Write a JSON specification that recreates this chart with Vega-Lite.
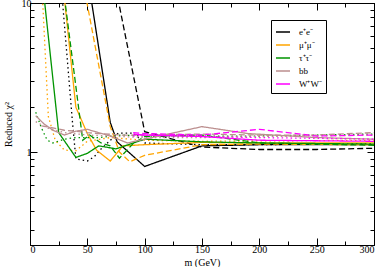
{
 "$schema": "https://vega.github.io/schema/vega-lite/v6.json",
 "width": 344, "height": 242,
 "autosize": "none",
 "padding": {"left": 30, "top": 3, "right": 8, "bottom": 22},
 "config": {
  "view": {"stroke": "black", "strokeWidth": 1},
  "font": "Liberation Serif",
  "axis": {"grid": false, "domainColor": "black", "tickColor": "black", "labelColor": "black", "titleColor": "black", "labelFont": "Liberation Serif", "titleFont": "Liberation Serif", "labelFontSize": 10, "titleFontSize": 10, "titleFontWeight": "normal"}
 },
 "data": {"values": [
  {"c": "e⁺e⁻", "s": "solid", "m": 50, "v": 15.6},
  {"c": "e⁺e⁻", "s": "solid", "m": 70, "v": 1.58},
  {"c": "e⁺e⁻", "s": "solid", "m": 76, "v": 1.17},
  {"c": "e⁺e⁻", "s": "solid", "m": 100, "v": 0.8},
  {"c": "e⁺e⁻", "s": "solid", "m": 150, "v": 1.1},
  {"c": "e⁺e⁻", "s": "solid", "m": 200, "v": 1.12},
  {"c": "e⁺e⁻", "s": "solid", "m": 250, "v": 1.12},
  {"c": "e⁺e⁻", "s": "solid", "m": 300, "v": 1.12},
  {"c": "e⁺e⁻", "s": "dashed", "m": 75, "v": 12.4},
  {"c": "e⁺e⁻", "s": "dashed", "m": 100, "v": 1.37},
  {"c": "e⁺e⁻", "s": "dashed", "m": 150, "v": 1.08},
  {"c": "e⁺e⁻", "s": "dashed", "m": 200, "v": 1.04},
  {"c": "e⁺e⁻", "s": "dashed", "m": 250, "v": 1.04},
  {"c": "e⁺e⁻", "s": "dashed", "m": 300, "v": 1.06},
  {"c": "e⁺e⁻", "s": "dotted", "m": 25, "v": 21},
  {"c": "e⁺e⁻", "s": "dotted", "m": 37, "v": 1.6},
  {"c": "e⁺e⁻", "s": "dotted", "m": 40, "v": 0.9},
  {"c": "e⁺e⁻", "s": "dotted", "m": 50, "v": 0.87},
  {"c": "e⁺e⁻", "s": "dotted", "m": 56, "v": 0.93},
  {"c": "e⁺e⁻", "s": "dotted", "m": 62, "v": 1.05},
  {"c": "e⁺e⁻", "s": "dotted", "m": 77, "v": 1.34},
  {"c": "e⁺e⁻", "s": "dotted", "m": 90, "v": 1.34},
  {"c": "e⁺e⁻", "s": "dotted", "m": 100, "v": 1.15},
  {"c": "e⁺e⁻", "s": "dotted", "m": 150, "v": 1.12},
  {"c": "e⁺e⁻", "s": "dotted", "m": 200, "v": 1.12},
  {"c": "e⁺e⁻", "s": "dotted", "m": 300, "v": 1.14},
  {"c": "μ⁺μ⁻", "s": "solid", "m": 25, "v": 25},
  {"c": "μ⁺μ⁻", "s": "solid", "m": 40, "v": 2.0},
  {"c": "μ⁺μ⁻", "s": "solid", "m": 50, "v": 1.33},
  {"c": "μ⁺μ⁻", "s": "solid", "m": 58, "v": 1.03},
  {"c": "μ⁺μ⁻", "s": "solid", "m": 70, "v": 0.87},
  {"c": "μ⁺μ⁻", "s": "solid", "m": 81, "v": 1.1},
  {"c": "μ⁺μ⁻", "s": "solid", "m": 100, "v": 1.12},
  {"c": "μ⁺μ⁻", "s": "solid", "m": 150, "v": 1.16},
  {"c": "μ⁺μ⁻", "s": "solid", "m": 200, "v": 1.15},
  {"c": "μ⁺μ⁻", "s": "solid", "m": 300, "v": 1.15},
  {"c": "μ⁺μ⁻", "s": "dashed", "m": 45, "v": 15.6},
  {"c": "μ⁺μ⁻", "s": "dashed", "m": 70, "v": 1.48},
  {"c": "μ⁺μ⁻", "s": "dashed", "m": 78, "v": 1.0},
  {"c": "μ⁺μ⁻", "s": "dashed", "m": 87, "v": 0.86},
  {"c": "μ⁺μ⁻", "s": "dashed", "m": 100, "v": 0.95},
  {"c": "μ⁺μ⁻", "s": "dashed", "m": 150, "v": 1.12},
  {"c": "μ⁺μ⁻", "s": "dashed", "m": 200, "v": 1.13},
  {"c": "μ⁺μ⁻", "s": "dashed", "m": 300, "v": 1.12},
  {"c": "μ⁺μ⁻", "s": "dotted", "m": 10, "v": 15},
  {"c": "μ⁺μ⁻", "s": "dotted", "m": 16, "v": 1.73},
  {"c": "μ⁺μ⁻", "s": "dotted", "m": 22, "v": 1.2},
  {"c": "μ⁺μ⁻", "s": "dotted", "m": 30, "v": 1.03},
  {"c": "μ⁺μ⁻", "s": "dotted", "m": 40, "v": 1.02},
  {"c": "μ⁺μ⁻", "s": "dotted", "m": 50, "v": 1.18},
  {"c": "μ⁺μ⁻", "s": "dotted", "m": 70, "v": 1.25},
  {"c": "μ⁺μ⁻", "s": "dotted", "m": 100, "v": 1.2},
  {"c": "μ⁺μ⁻", "s": "dotted", "m": 150, "v": 1.18},
  {"c": "μ⁺μ⁻", "s": "dotted", "m": 300, "v": 1.2},
  {"c": "τ⁺τ⁻", "s": "solid", "m": 10, "v": 16},
  {"c": "τ⁺τ⁻", "s": "solid", "m": 25, "v": 1.35},
  {"c": "τ⁺τ⁻", "s": "solid", "m": 40, "v": 0.92},
  {"c": "τ⁺τ⁻", "s": "solid", "m": 50, "v": 0.98},
  {"c": "τ⁺τ⁻", "s": "solid", "m": 60, "v": 1.1},
  {"c": "τ⁺τ⁻", "s": "solid", "m": 75, "v": 1.05},
  {"c": "τ⁺τ⁻", "s": "solid", "m": 100, "v": 1.22},
  {"c": "τ⁺τ⁻", "s": "solid", "m": 150, "v": 1.17},
  {"c": "τ⁺τ⁻", "s": "solid", "m": 200, "v": 1.15},
  {"c": "τ⁺τ⁻", "s": "solid", "m": 300, "v": 1.13},
  {"c": "τ⁺τ⁻", "s": "dashed", "m": 25, "v": 22},
  {"c": "τ⁺τ⁻", "s": "dashed", "m": 46, "v": 1.2},
  {"c": "τ⁺τ⁻", "s": "dashed", "m": 52, "v": 1.3},
  {"c": "τ⁺τ⁻", "s": "dashed", "m": 62, "v": 1.15},
  {"c": "τ⁺τ⁻", "s": "dashed", "m": 70, "v": 1.1},
  {"c": "τ⁺τ⁻", "s": "dashed", "m": 78, "v": 0.91},
  {"c": "τ⁺τ⁻", "s": "dashed", "m": 90, "v": 1.14},
  {"c": "τ⁺τ⁻", "s": "dashed", "m": 100, "v": 1.27},
  {"c": "τ⁺τ⁻", "s": "dashed", "m": 150, "v": 1.3},
  {"c": "τ⁺τ⁻", "s": "dashed", "m": 200, "v": 1.15},
  {"c": "τ⁺τ⁻", "s": "dashed", "m": 300, "v": 1.11},
  {"c": "τ⁺τ⁻", "s": "dotted", "m": 5, "v": 1.85},
  {"c": "τ⁺τ⁻", "s": "dotted", "m": 10, "v": 1.45},
  {"c": "τ⁺τ⁻", "s": "dotted", "m": 15, "v": 1.2},
  {"c": "τ⁺τ⁻", "s": "dotted", "m": 20, "v": 1.15},
  {"c": "τ⁺τ⁻", "s": "dotted", "m": 30, "v": 1.22},
  {"c": "τ⁺τ⁻", "s": "dotted", "m": 40, "v": 1.25},
  {"c": "τ⁺τ⁻", "s": "dotted", "m": 60, "v": 1.25},
  {"c": "τ⁺τ⁻", "s": "dotted", "m": 80, "v": 1.3},
  {"c": "τ⁺τ⁻", "s": "dotted", "m": 100, "v": 1.28},
  {"c": "τ⁺τ⁻", "s": "dotted", "m": 150, "v": 1.28},
  {"c": "τ⁺τ⁻", "s": "dotted", "m": 200, "v": 1.28},
  {"c": "τ⁺τ⁻", "s": "dotted", "m": 250, "v": 1.3},
  {"c": "τ⁺τ⁻", "s": "dotted", "m": 300, "v": 1.32},
  {"c": "bb", "s": "solid", "m": 5, "v": 1.75},
  {"c": "bb", "s": "solid", "m": 12, "v": 1.55},
  {"c": "bb", "s": "solid", "m": 20, "v": 1.4},
  {"c": "bb", "s": "solid", "m": 30, "v": 1.3},
  {"c": "bb", "s": "solid", "m": 40, "v": 1.38},
  {"c": "bb", "s": "solid", "m": 50, "v": 1.42},
  {"c": "bb", "s": "solid", "m": 70, "v": 1.28},
  {"c": "bb", "s": "solid", "m": 85, "v": 1.15},
  {"c": "bb", "s": "solid", "m": 100, "v": 1.22},
  {"c": "bb", "s": "solid", "m": 150, "v": 1.48},
  {"c": "bb", "s": "solid", "m": 190, "v": 1.33},
  {"c": "bb", "s": "solid", "m": 250, "v": 1.25},
  {"c": "bb", "s": "solid", "m": 300, "v": 1.22},
  {"c": "bb", "s": "dashed", "m": 10, "v": 1.5},
  {"c": "bb", "s": "dashed", "m": 20, "v": 1.45},
  {"c": "bb", "s": "dashed", "m": 30, "v": 1.4},
  {"c": "bb", "s": "dashed", "m": 40, "v": 1.38},
  {"c": "bb", "s": "dashed", "m": 50, "v": 1.35},
  {"c": "bb", "s": "dashed", "m": 60, "v": 1.33},
  {"c": "bb", "s": "dashed", "m": 80, "v": 1.3},
  {"c": "bb", "s": "dashed", "m": 100, "v": 1.3},
  {"c": "bb", "s": "dashed", "m": 150, "v": 1.32},
  {"c": "bb", "s": "dashed", "m": 200, "v": 1.3},
  {"c": "bb", "s": "dashed", "m": 250, "v": 1.3},
  {"c": "bb", "s": "dashed", "m": 300, "v": 1.35},
  {"c": "bb", "s": "dotted", "m": 5, "v": 1.6},
  {"c": "bb", "s": "dotted", "m": 15, "v": 1.45},
  {"c": "bb", "s": "dotted", "m": 30, "v": 1.35},
  {"c": "bb", "s": "dotted", "m": 50, "v": 1.3},
  {"c": "bb", "s": "dotted", "m": 100, "v": 1.25},
  {"c": "bb", "s": "dotted", "m": 150, "v": 1.25},
  {"c": "bb", "s": "dotted", "m": 200, "v": 1.27},
  {"c": "bb", "s": "dotted", "m": 300, "v": 1.3},
  {"c": "W⁺W⁻", "s": "solid", "m": 90, "v": 1.32},
  {"c": "W⁺W⁻", "s": "solid", "m": 100, "v": 1.3},
  {"c": "W⁺W⁻", "s": "solid", "m": 150, "v": 1.27},
  {"c": "W⁺W⁻", "s": "solid", "m": 200, "v": 1.2},
  {"c": "W⁺W⁻", "s": "solid", "m": 300, "v": 1.18},
  {"c": "W⁺W⁻", "s": "dashed", "m": 90, "v": 1.35},
  {"c": "W⁺W⁻", "s": "dashed", "m": 100, "v": 1.33},
  {"c": "W⁺W⁻", "s": "dashed", "m": 150, "v": 1.3},
  {"c": "W⁺W⁻", "s": "dashed", "m": 200, "v": 1.42},
  {"c": "W⁺W⁻", "s": "dashed", "m": 250, "v": 1.28},
  {"c": "W⁺W⁻", "s": "dashed", "m": 300, "v": 1.3},
  {"c": "W⁺W⁻", "s": "dotted", "m": 90, "v": 1.28},
  {"c": "W⁺W⁻", "s": "dotted", "m": 100, "v": 1.3},
  {"c": "W⁺W⁻", "s": "dotted", "m": 150, "v": 1.27},
  {"c": "W⁺W⁻", "s": "dotted", "m": 200, "v": 1.25},
  {"c": "W⁺W⁻", "s": "dotted", "m": 300, "v": 1.22}
 ]},
 "layer": [
  {
   "mark": {"type": "line", "clip": true, "strokeWidth": 1.3},
   "encoding": {
    "x": {"field": "m", "type": "quantitative", "scale": {"domain": [0, 300], "nice": false, "zero": false},
      "axis": {"orient": "bottom", "title": "m (GeV)", "values": [0,25,50,75,100,125,150,175,200,225,250,275,300],
        "labelExpr": "datum.value % 50 == 0 ? datum.label : ''",
        "tickSize": {"condition": {"test": "datum.value % 50 == 0", "value": -7}, "value": -4},
        "labelPadding": 6, "titlePadding": 3, "domain": true}},
    "y": {"field": "v", "type": "quantitative", "scale": {"type": "log", "domain": [0.2377, 10], "nice": false},
      "axis": {"orient": "left", "title": "Reduced χ²", "values": [0.3,0.4,0.5,0.6,0.7,0.8,0.9,1,2,3,4,5,6,7,8,9,10],
        "format": "~g",
        "labelExpr": "datum.value == 1 || datum.value == 10 ? datum.label : ''",
        "tickSize": {"condition": {"test": "datum.value == 1 || datum.value == 10", "value": -7}, "value": -4},
        "labelPadding": 6, "titlePadding": 8}},
    "color": {"field": "c", "type": "nominal",
      "scale": {"domain": ["e⁺e⁻", "μ⁺μ⁻", "τ⁺τ⁻", "bb", "W⁺W⁻"], "range": ["#000000", "#FFA500", "#009400", "#BC8F8F", "#FF00FF"]},
      "legend": {"orient": "none", "legendX": 241, "legendY": 17, "title": null, "strokeColor": "black", "fillColor": "white",
        "padding": 4, "symbolType": "M-1,0L1,0", "symbolSize": 196, "symbolStrokeWidth": 1.5, "symbolDash": [1, 0],
        "labelFont": "Liberation Serif", "labelFontSize": 9, "labelColor": "black", "rowPadding": 0, "labelOffset": 8}},
    "strokeDash": {"field": "s", "type": "nominal",
      "scale": {"domain": ["solid", "dashed", "dotted"], "range": [[1, 0], [6, 3], [1.5, 3]]}, "legend": null}
   }
  },
  {
   "mark": {"type": "point", "opacity": 0},
   "encoding": {
    "x": {"field": "m", "type": "quantitative",
      "axis": {"orient": "top", "title": null, "labels": false, "values": [0,25,50,75,100,125,150,175,200,225,250,275,300],
        "tickSize": {"condition": {"test": "datum.value % 50 == 0", "value": -7}, "value": -4}}},
    "y": {"field": "v", "type": "quantitative",
      "axis": {"orient": "right", "title": null, "labels": false, "values": [0.3,0.4,0.5,0.6,0.7,0.8,0.9,1,2,3,4,5,6,7,8,9,10],
        "tickSize": {"condition": {"test": "datum.value == 1 || datum.value == 10", "value": -7}, "value": -4}}}
   }
  }
 ],
 "resolve": {"axis": {"x": "independent", "y": "independent"}}
}
